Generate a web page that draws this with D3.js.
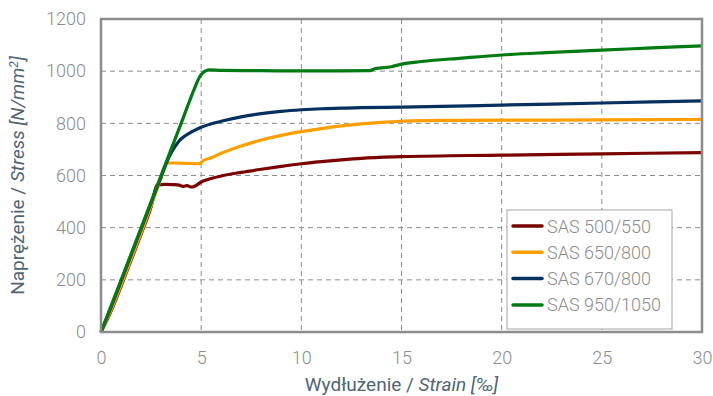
<!DOCTYPE html>
<html>
<head>
<meta charset="utf-8">
<script src="https://cdn.jsdelivr.net/npm/d3@7"></script>
<style>
  body { margin: 0; background: #fff; }
  svg { display: block; font-family: Roboto, "DejaVu Sans", sans-serif; }
</style>
</head>
<body>
<div id="chart"></div>
<script>
const xTicks = [0, 5, 10, 15, 20, 25, 30];
const yTicks = [0, 200, 400, 600, 800, 1000, 1200];
const seriesNames = ['SAS 500/550', 'SAS 650/800', 'SAS 670/800', 'SAS 950/1050'];
const seriesColors = ['#7b0000', '#ff9e00', '#06315f', '#007a12'];

// [strain ‰, stress N/mm²]
const sas500 = [[0, 0], [0.5, 80], [1, 175], [1.5, 275], [2, 375], [2.5, 480], [2.8, 563], [3.2, 566], [3.6, 565],
  [3.9, 563], [4.1, 558], [4.3, 561], [4.5, 556], [4.7, 560], [5, 575], [5.3, 584], [6, 598], [7, 612], [8, 624],
  [9, 635], [10, 645], [11, 653], [12, 660], [13, 666], [15, 672], [20, 678], [25, 683], [30, 688]];
const sas650 = [[0, 0], [0.5, 85], [1, 180], [1.5, 280], [2, 380], [2.5, 485], [3, 590], [3.3, 648], [3.8, 648],
  [4.5, 646], [4.9, 645], [5.1, 657], [5.5, 668], [6, 685], [7, 713], [8, 736], [9, 754], [10, 768], [11, 780],
  [12, 790], [13, 798], [14, 804], [15, 808], [17, 811], [20, 812], [25, 813], [30, 815]];
const sas670 = [[0, 0], [0.5, 95], [1, 195], [2, 395], [3, 595], [3.4, 672], [3.7, 712], [4, 740], [4.5, 766],
  [5, 785], [6, 808], [7, 825], [8, 837], [9, 846], [10, 852], [11, 856], [12, 858], [13, 860], [15, 862],
  [20, 870], [25, 878], [30, 886]];
const sas950 = [[0, 0], [1, 198], [2, 398], [3, 600], [4, 800], [4.7, 940], [4.9, 975], [5.1, 995], [5.4, 1005],
  [6, 1003], [8, 1002], [10, 1001], [12, 1001], [13.4, 1002], [13.7, 1010], [14.5, 1017], [15, 1027], [16, 1037],
  [18, 1050], [20, 1062], [22.5, 1072], [25, 1081], [27.5, 1089], [30, 1097]];
const seriesData = [sas500, sas650, sas670, sas950];

const width = 713, height = 396;
const margin = { top: 19, right: 11, bottom: 64, left: 101 };
const innerW = width - margin.left - margin.right;
const innerH = height - margin.top - margin.bottom;

const svg = d3.select('#chart').append('svg')
  .attr('width', width)
  .attr('height', height);

const g = svg.append('g').attr('transform', `translate(${margin.left},${margin.top})`);

const x = d3.scaleLinear().domain([0, 30]).range([0, innerW]);
const y = d3.scaleLinear().domain([0, 1200]).range([innerH, 0]);

// grid
g.append('g').selectAll('line').data(xTicks.slice(1, -1)).join('line')
  .attr('x1', d => x(d)).attr('x2', d => x(d))
  .attr('y1', 0).attr('y2', innerH)
  .attr('stroke', '#8c8c8c').attr('stroke-width', 1).attr('stroke-dasharray', '5,4');
g.append('g').selectAll('line').data(yTicks.slice(1, -1)).join('line')
  .attr('x1', 0).attr('x2', innerW)
  .attr('y1', d => y(d)).attr('y2', d => y(d))
  .attr('stroke', '#8c8c8c').attr('stroke-width', 1).attr('stroke-dasharray', '5,4');

// axes (labels only, frame drawn below)
const xAxis = g.append('g').attr('transform', `translate(0,${innerH})`)
  .call(d3.axisBottom(x).tickValues(xTicks).tickFormat(d3.format('d')).tickSize(0).tickPadding(19));
const yAxis = g.append('g')
  .call(d3.axisLeft(y).tickValues(yTicks).tickFormat(d3.format('d')).tickSize(0).tickPadding(15));
[xAxis, yAxis].forEach(a => {
  a.select('.domain').remove();
  a.selectAll('text').attr('fill', '#8c8c8c').style('font-size', '18px')
    .style('font-weight', 300)
    .style('font-family', 'Roboto, sans-serif');
});

// series
const line = d3.line().x(d => x(d[0])).y(d => y(d[1])).curve(d3.curveMonotoneX);
g.append('g').selectAll('path').data(seriesData).join('path')
  .attr('d', line)
  .attr('fill', 'none')
  .attr('stroke', (d, i) => seriesColors[i])
  .attr('stroke-width', 3.2)
  .attr('stroke-linejoin', 'round');

// frame
g.append('rect')
  .attr('x', 0).attr('y', 0).attr('width', innerW).attr('height', innerH)
  .attr('fill', 'none').attr('stroke', '#8c8c8c').attr('stroke-width', 2.5);

// legend
const legend = g.append('g').attr('transform', `translate(${406},${191})`);
legend.append('rect')
  .attr('width', 165).attr('height', 119)
  .attr('fill', '#fff').attr('stroke', '#a6a6a6').attr('stroke-width', 1);
const items = legend.selectAll('g').data(seriesNames).join('g')
  .attr('transform', (d, i) => `translate(0,${16 + i * 26.3})`);
items.append('line')
  .attr('x1', 6).attr('x2', 35).attr('y1', 0).attr('y2', 0)
  .attr('stroke', (d, i) => seriesColors[i]).attr('stroke-width', 3.5).attr('stroke-linecap', 'round');
items.append('text')
  .attr('x', 40).attr('y', 6.5)
  .attr('fill', '#8c8c8c').style('font-size', '18px').style('font-weight', 300)
  .text(d => d);

// axis titles
const titleColor = '#4f6575';
const xt = svg.append('text')
  .attr('x', margin.left + innerW / 2).attr('y', 391)
  .attr('text-anchor', 'middle').attr('fill', titleColor).style('font-size', '19px');
xt.append('tspan').text('Wydłużenie / ');
xt.append('tspan').attr('font-style', 'italic').text('Strain [‰]');

const yt = svg.append('text')
  .attr('transform', `translate(24,${margin.top + innerH / 2}) rotate(-90)`)
  .attr('text-anchor', 'middle').attr('fill', titleColor).style('font-size', '19px');
yt.append('tspan').text('Naprężenie / ');
yt.append('tspan').attr('font-style', 'italic').text('Stress [N/mm');
yt.append('tspan').attr('font-style', 'italic').attr('dy', -6).style('font-size', '12px').text('2');
yt.append('tspan').attr('font-style', 'italic').attr('dy', 6).text(']');
</script>
</body>
</html>
